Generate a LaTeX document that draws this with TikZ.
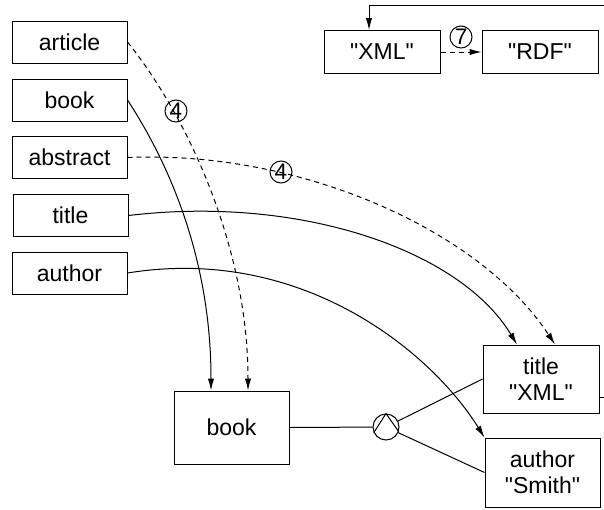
\documentclass[tikz,border=0pt]{standalone}
\usepackage{fontspec}
\setmainfont{Liberation Sans}[Ligatures=TeXOff]
\usetikzlibrary{arrows.meta}
\begin{document}
\begin{tikzpicture}[x=0.5pt,y=-0.5pt,
  box/.style={draw, inner sep=0pt, minimum width=57.5pt, minimum height=21pt, font=\fontsize{11.5}{13}\selectfont, align=center},
  num/.style={draw, circle, inner sep=0pt, minimum size=11pt, font=\fontsize{11.25}{13}\selectfont},
  arr/.style={-{Latex[length=6pt,width=3.2pt]}},
  dsh/.style={dash pattern=on 2.5pt off 2pt},
  every path/.style={line width=0.5pt}]
\useasboundingbox (0,0) rectangle (604,509);
% left column
\node[box] (ar) at (69.5,42) {article};
\node[box] (bo) at (69.5,100) {book};
\node[box] (ab) at (69.5,157.5) {abstract};
\node[box] (ti) at (70.5,215.5) {title};
\node[box] (au0) at (69.5,273) {author};
% top
\node[box, minimum width=58pt, minimum height=21.5pt] (xml) at (382,52) {"XML"};
\node[box, minimum width=58pt, minimum height=21.5pt] (rdf) at (540,52) {"RDF"};
\coordinate (tr) at (604,5);
\draw[arr] (tr) -| ([xshift=-6.5pt]xml.north);
\draw[arr,dsh] (xml.east) -- (rdf.west);
\node[num] (n7) at (461,37) {\raisebox{-0.6pt}{7}};
% bottom
\node[box, minimum height=36.5pt] (bk) at (231.5,427.5) {book};
\node[box, minimum width=58pt, minimum height=34pt] (tx) at (541,379) {title\\"XML"};
\node[box, minimum height=34.5pt] (as) at (542.5,472.5) {author\\"Smith"};
\node[draw, circle, inner sep=0pt, minimum size=13pt] (and) at (386,427) {};
\draw (and.205) -- (and.north) -- (and.-20);
\draw (bk.east) -- (and);
\draw (and) -- (tx.west);
\draw (and) -- (as.west);
\coordinate (txr) at (604,397);
\draw (tx.east |- txr) -- (txr);
% curves
\draw[arr,dsh] (ar.east) .. controls (190,120) and (248,250) .. ([xshift=8.25pt]bk.north);
\draw[arr] (bo.east) .. controls (170,165) and (211,260) .. ([xshift=-10.25pt]bk.north);
\draw[arr,dsh] (ab.east) .. controls (300,150) and (480,230) .. ([xshift=7pt]tx.north);
\draw[arr] (ti.east) .. controls (300,195) and (460,250) .. ([xshift=-12pt]tx.north);
\draw[arr] (au0.east) .. controls (300,245) and (430,350) .. (as.north west);
\node[num] (n4a) at (176,111) {\raisebox{-1pt}{4}};
\node[num] (n4b) at (281,172) {\raisebox{-1pt}{4}};
\end{tikzpicture}
\end{document}
